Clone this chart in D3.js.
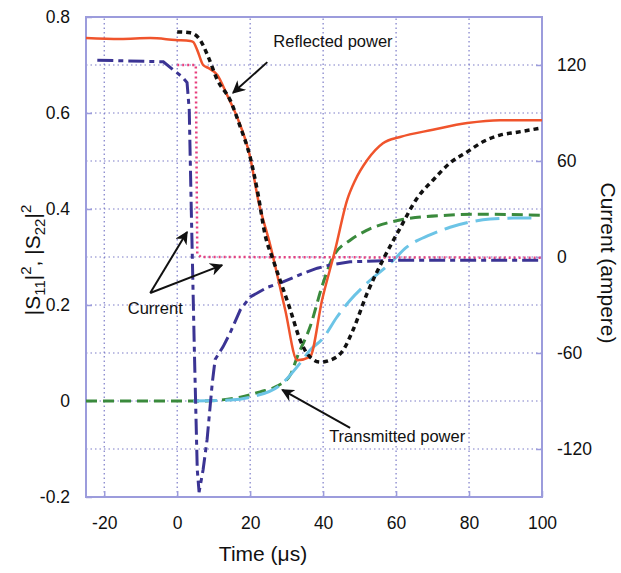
<!DOCTYPE html>
<html>
<head>
<meta charset="utf-8">
<script src="https://cdnjs.cloudflare.com/ajax/libs/d3/7.8.5/d3.min.js"></script>
<style>
  body { margin: 0; background: #fff; }
  text { font-family: "Liberation Sans", Arial, sans-serif; fill: #111; }
</style>
</head>
<body>
<div id="chart"></div>
<script>
// time ticks and axis ticks
const timeTicks = [-20, 0, 20, 40, 60, 80, 100];
const leftTicks = [-0.2, 0, 0.2, 0.4, 0.6, 0.8];
const rightTicks = [-120, -60, 0, 60, 120];

// reflected power, measured (solid red) [time, |S11|^2]
const reflectedMeas = [[-25,0.756],[-15.6,0.754],[-7.4,0.756],[-0.5,0.752],[3.6,0.75],[4.4,0.748],[5.5,0.731],[7.1,0.70],[8.5,0.694],[11,0.679],[13.7,0.637],[16.4,0.592],[20,0.508],[22.2,0.419],[25.5,0.325],[29.6,0.19],[32.9,0.085],[36.4,0.092],[39.7,0.21],[43.3,0.315],[46.6,0.419],[48.8,0.46],[52.1,0.502],[56.4,0.537],[61.1,0.55],[70.1,0.565],[79.5,0.579],[88.5,0.585],[100,0.585]];
// reflected power, simulated (black dotted)
const reflectedSim = [[0,0.769],[3.6,0.767],[6.3,0.752],[8.5,0.717],[11,0.669],[14.5,0.627],[17.3,0.571],[20,0.508],[22.2,0.429],[24.1,0.346],[26.3,0.294],[31,0.19],[33.7,0.127],[35.9,0.096],[39.2,0.081],[41.9,0.085],[45.5,0.106],[48.2,0.148],[52.1,0.225],[56.4,0.294],[61.1,0.36],[65.8,0.423],[70.1,0.46],[74.8,0.496],[79.5,0.519],[83.8,0.54],[88.5,0.554],[93.2,0.56],[100,0.569]];
// transmitted power, simulated (green dashed)
const transmittedSim = [[-25,0],[6.3,0],[11.8,0.002],[17.3,0.008],[22.7,0.019],[27.4,0.031],[31,0.054],[32.9,0.092],[36.4,0.154],[40,0.246],[42.7,0.30],[47.4,0.335],[52.1,0.356],[61.1,0.377],[74,0.387],[83,0.389],[99.5,0.387]];
// transmitted power, measured (light blue long dash)
const transmittedMeas = [[4.4,0],[14.5,0.002],[20,0.008],[28.2,0.033],[33.7,0.079],[36.4,0.106],[40,0.131],[43.8,0.175],[47.4,0.21],[52.1,0.246],[58.4,0.287],[63,0.321],[69.3,0.346],[74.8,0.362],[80.3,0.373],[85.8,0.379],[92.1,0.381],[98.6,0.381]];
// current, measured (dark blue dash-dot) [time, ampere]
const currentMeas = [[-21.9,123],[-3.8,122],[-1.1,117],[1.4,112.5],[2.7,109],[3.3,92],[3.8,36],[4.7,-58],[5.5,-133],[6,-147],[7.1,-133],[8.2,-114],[9.6,-79],[10.4,-64],[12.6,-56],[14.5,-47.5],[17.3,-33],[20,-25],[24.7,-19],[29,-15.6],[33.7,-11],[38.4,-7],[41.9,-5],[47.4,-3],[61.1,-2],[99.5,-2]];
// current, simulated (pink dotted)
const currentSim = [[0,120],[5.1,120],[5.3,60],[5.5,2],[6.5,0],[100,-0.5]];

// annotation labels and arrows in data units [time, |S|^2]
const labels = [
  {text: "Reflected power", at: [42.7, 0.746]},
  {text: "Current", at: [-6.0, 0.19]},
  {text: "Transmitted power", at: [60.3, -0.077]}
];
const arrows = [
  [[24.7, 0.706], [15.3, 0.642]],
  [[-7.4, 0.225], [2.7, 0.352]],
  [[-7.4, 0.225], [12.3, 0.283]],
  [[47.4, -0.056], [28.8, 0.023]]
];

const W = 621, H = 573;
const m = {left: 86, right: 79, top: 17, bottom: 76};

const svg = d3.select("#chart").append("svg")
  .attr("width", W).attr("height", H);

const x = d3.scaleLinear().domain([-25, 100]).range([m.left, W - m.right]);
const y = d3.scaleLinear().domain([-0.2, 0.8]).range([H - m.bottom, m.top]);
const yR = d3.scaleLinear().domain([-150, 150]).range([H - m.bottom, m.top]);

const gridColor = "#7c7cc8";
const frameColor = "#9c9cdc";

// grid
const g = svg.append("g");
g.selectAll(".vg").data(timeTicks.filter(d => d > -25 && d < 100)).enter().append("line")
  .attr("x1", d => x(d)).attr("x2", d => x(d))
  .attr("y1", y(-0.2)).attr("y2", y(0.8))
  .attr("stroke", gridColor).attr("stroke-width", 1.2).attr("stroke-dasharray", "1.5,3");
g.selectAll(".hg").data(d3.range(-1, 8).map(d => d / 10)).enter().append("line")
  .attr("x1", x(-25)).attr("x2", x(100))
  .attr("y1", d => y(d)).attr("y2", d => y(d))
  .attr("stroke", gridColor).attr("stroke-width", 1.2).attr("stroke-dasharray", "1.5,3");

// axes (plain hyphen for minus, like the original)
const hy = f => d => f(d).replace("\u2212", "-");
const axL = d3.axisLeft(y).tickValues(leftTicks).tickSize(-6).tickPadding(16)
  .tickFormat(hy(d => d === 0 ? "0" : d3.format(".1f")(d)));
const axR = d3.axisRight(yR).tickValues(rightTicks).tickSize(-6).tickPadding(15).tickFormat(hy(d3.format("d")));
const axB = d3.axisBottom(x).tickValues(timeTicks).tickSize(-6).tickPadding(20).tickFormat(hy(d3.format("d")));

function styleAxis(sel) {
  sel.select(".domain").remove();
  sel.selectAll(".tick line").attr("stroke", frameColor).attr("stroke-width", 1.5);
  sel.selectAll(".tick text").attr("font-size", 17.5).attr("fill", "#111")
    .attr("font-family", "Liberation Sans, Arial, sans-serif");
}
svg.append("g").attr("transform", `translate(${m.left},0)`).call(axL).call(styleAxis);
svg.append("g").attr("transform", `translate(${W - m.right},0)`).call(axR).call(styleAxis);
svg.append("g").attr("transform", `translate(0,${H - m.bottom})`).call(axB).call(styleAxis);

svg.append("rect")
  .attr("x", m.left).attr("y", m.top)
  .attr("width", W - m.left - m.right).attr("height", H - m.top - m.bottom)
  .attr("fill", "none").attr("stroke", frameColor).attr("stroke-width", 2);

// curves
const lineL = d3.line().x(d => x(d[0])).y(d => y(d[1])).curve(d3.curveMonotoneX);
const lineR = d3.line().x(d => x(d[0])).y(d => yR(d[1]));

const series = [
  {data: transmittedSim, line: lineL, color: "#3a8a3c", w: 3, dash: "11,6"},
  {data: transmittedMeas, line: lineL, color: "#6cc4e6", w: 3, dash: "24,8"},
  {data: currentSim, line: lineR, color: "#e8407e", w: 2.5, dash: "2,3"},
  {data: currentMeas, line: lineR, color: "#3b3494", w: 3, dash: "16,5,5,5"},
  {data: reflectedMeas, line: lineL, color: "#f0542c", w: 2.5, dash: null},
  {data: reflectedSim, line: lineL, color: "#111", w: 3.5, dash: "5,4"}
];
svg.selectAll(".series").data(series).enter().append("path")
  .attr("class", "series")
  .attr("d", d => d.line(d.data))
  .attr("fill", "none")
  .attr("stroke", d => d.color)
  .attr("stroke-width", d => d.w)
  .attr("stroke-dasharray", d => d.dash);

// annotations
svg.append("defs").append("marker")
  .attr("id", "arr").attr("viewBox", "0 0 10 10")
  .attr("refX", 9).attr("refY", 5)
  .attr("markerWidth", 6.5).attr("markerHeight", 6.5)
  .attr("orient", "auto")
  .append("path").attr("d", "M0,0 L10,5 L0,10 L3,5 Z").attr("fill", "#111");

svg.selectAll(".arrow").data(arrows).enter().append("line")
  .attr("x1", d => x(d[0][0])).attr("y1", d => y(d[0][1]))
  .attr("x2", d => x(d[1][0])).attr("y2", d => y(d[1][1]))
  .attr("stroke", "#111").attr("stroke-width", 2)
  .attr("marker-end", "url(#arr)");

svg.selectAll(".lbl").data(labels).enter().append("text")
  .attr("x", d => x(d.at[0])).attr("y", d => y(d.at[1]))
  .attr("text-anchor", "middle").attr("dominant-baseline", "middle")
  .attr("font-size", 16.5)
  .text(d => d.text);

// axis titles
svg.append("text")
  .attr("x", 263).attr("y", 561)
  .attr("text-anchor", "middle").attr("font-size", 21)
  .text("Time (\u03bcs)");

const lt = svg.append("text")
  .attr("transform", "translate(40,260) rotate(-90)")
  .attr("text-anchor", "middle").attr("font-size", 21);
lt.append("tspan").text("|S");
lt.append("tspan").attr("font-size", 15).attr("dy", 5).text("11");
lt.append("tspan").attr("dy", -5).text("|");
lt.append("tspan").attr("font-size", 15).attr("dy", -9).text("2");
lt.append("tspan").attr("dy", 9).text(", |S");
lt.append("tspan").attr("font-size", 15).attr("dy", 5).text("22");
lt.append("tspan").attr("dy", -5).text("|");
lt.append("tspan").attr("font-size", 15).attr("dy", -9).text("2");

svg.append("text")
  .attr("transform", "translate(601,263) rotate(90)")
  .attr("text-anchor", "middle").attr("font-size", 21)
  .text("Current (ampere)");
</script>
</body>
</html>
